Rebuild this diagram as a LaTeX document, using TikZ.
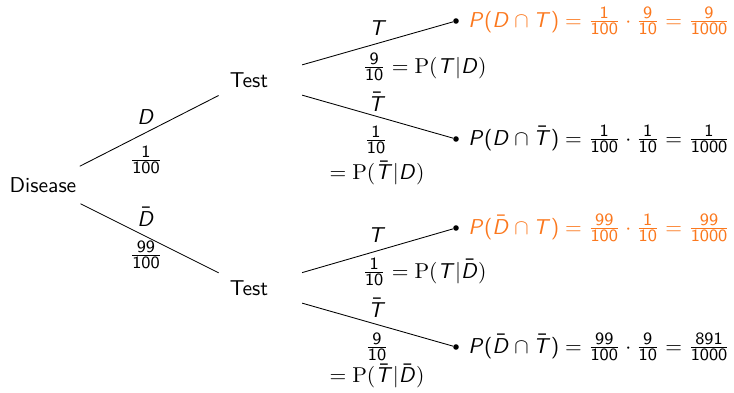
\documentclass[tikz,border=0pt]{standalone}
\DeclareMathVersion{sans}
\SetSymbolFont{operators}{sans}{OT1}{cmss}{m}{n}
\SetSymbolFont{letters}{sans}{OT1}{cmss}{m}{sl}
\SetMathAlphabet{\mathrm}{sans}{OT1}{cmss}{m}{n}
\DeclareMathSizes{10}{10}{7.6}{5.5}
\definecolor{leaforange}{RGB}{251,120,30}
\begin{document}
\begin{tikzpicture}[x=0.465pt,y=-0.465pt,
  every node/.style={font=\sffamily\mathversion{sans}},
  tnode/.style={inner sep=5pt},
  leaf/.style={circle,fill=black,inner sep=0pt,minimum size=2.6pt},
  lbl/.style={inner sep=0pt},
  res/.style={anchor=west,inner sep=0pt,xshift=5.6pt}]
\useasboundingbox (0,0) rectangle (734,392);
% tree nodes
\node[tnode] (dis) at (43,185) {Disease};
\node[tnode] (t1) at (249,80) {Test};
\node[tnode] (t2) at (249,288) {Test};
\node[leaf] (l1) at (456,21) {};
\node[leaf] (l2) at (456,139) {};
\node[leaf] (l3) at (456,228) {};
\node[leaf] (l4) at (456,347) {};
% edges
\draw (dis) -- (t1);
\draw (dis) -- (t2);
\draw[shorten <=11pt] (t1) -- (l1);
\draw[shorten <=11pt] (t1) -- (l2);
\draw[shorten <=11pt] (t2) -- (l3);
\draw[shorten <=11pt] (t2) -- (l4);
% first level labels
\node[lbl] (ld) at (146,117) {$D$};
\node[lbl] (pd) at (146,160) {$\frac{1}{100}$};
\node[lbl] (lnd) at (146,217) {$\bar{D}$};
\node[lbl] (pnd) at (146,255) {$\frac{99}{100}$};
% second level labels, upper
\node[lbl] (lt1) at (378,28) {$T$};
\node[lbl,anchor=west] (pt1) at (362,67) {$\frac{9}{10} \mathrel{\textrm{=}} \textrm{P(}T|D\textrm{)}$};
\node[lbl] (lnt1) at (377,102) {$\bar{T}$};
\node[lbl] (pnt1a) at (376,140) {$\frac{1}{10}$};
\node[lbl] (pnt1b) at (377,173) {$\mathrel{\textrm{=}} \textrm{P(}\bar{T}|D\textrm{)}$};
% second level labels, lower
\node[lbl] (lt2) at (377,235) {$T$};
\node[lbl,anchor=west] (pt2) at (362,272) {$\frac{1}{10} \mathrel{\textrm{=}} \textrm{P(}T|\bar{D}\textrm{)}$};
\node[lbl] (lnt2) at (377,308) {$\bar{T}$};
\node[lbl] (pnt2a) at (377,347) {$\frac{9}{10}$};
\node[lbl] (pnt2b) at (377,376) {$\mathrel{\textrm{=}} \textrm{P(}\bar{T}|\bar{D}\textrm{)}$};
% results
\node[res,text=leaforange] (r1) at (l1) {$P(D\cap T) = \frac{1}{100}\cdot\frac{9}{10} = \frac{9}{1000}$};
\node[res] (r2) at (l2) {$P(D\cap \bar{T}) = \frac{1}{100}\cdot\frac{1}{10} = \frac{1}{1000}$};
\node[res,text=leaforange] (r3) at (l3) {$P(\bar{D}\cap T) = \frac{99}{100}\cdot\frac{1}{10} = \frac{99}{1000}$};
\node[res] (r4) at (l4) {$P(\bar{D}\cap \bar{T}) = \frac{99}{100}\cdot\frac{9}{10} = \frac{891}{1000}$};
\end{tikzpicture}
\end{document}
